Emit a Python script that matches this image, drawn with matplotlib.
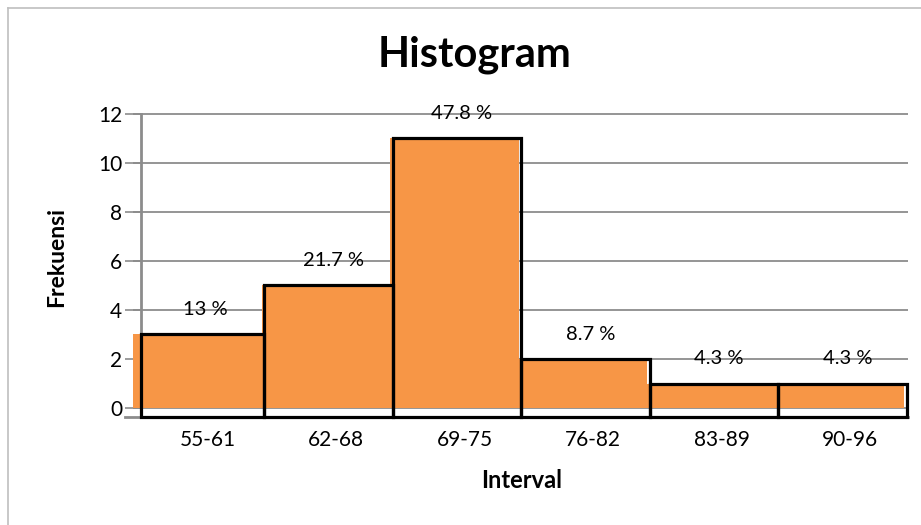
import matplotlib
matplotlib.use("Agg")
import matplotlib.pyplot as plt
import numpy as np
from matplotlib.lines import Line2D

orange = "#F79646"
gray = "#8C8C8C"

intervals = ["55-61", "62-68", "69-75", "76-82", "83-89", "90-96"]
frekuensi = [3, 5, 11, 2, 1, 1]
persen = ["13 %", "21.7 %", "47.8 %", "8.7 %", "4.3 %", "4.3 %"]

plt.rcParams["font.family"] = ["Lato", "DejaVu Sans"]

fig = plt.figure(figsize=(9.21, 5.25), dpi=100)
W, H = 921, 525
y_bot, y_top = -0.367, 12.1
ax = fig.add_axes([133 / W, (H - 417) / H, 775 / W, (417 - 111.5) / H])

x = np.arange(len(intervals))
spine_x = -0.438

# orange fill
ax.bar(x, frekuensi, width=1.0, color=orange, zorder=2)
# black outlines, reaching below zero like the original
lefts = np.maximum(x - 0.48, spine_x)
rights = x + 0.52
ax.bar(lefts, np.array(frekuensi) - y_bot, width=rights - lefts, bottom=y_bot,
       align="edge", fill=False, edgecolor="black", linewidth=2.3, zorder=3,
       clip_on=False)

for xi, v, lab in zip(x, frekuensi, persen):
    ax.text(xi + 0.06, min(v + 1.02, 12.02), lab, ha="center", va="center",
            fontsize=14.5, zorder=4)

ax.set_xlim(-0.5, 5.53)
ax.set_ylim(y_bot, y_top)
ax.set_yticks(np.arange(0, 13, 2))
ax.set_xticks(x + 0.08)
ax.set_xticklabels(intervals, fontsize=15)
ax.tick_params(axis="x", length=0, pad=9)
ax.tick_params(axis="y", length=11.5, width=1.2, color=gray, labelsize=15, pad=2)
ax.grid(axis="y", color=gray, linewidth=1.3, zorder=0)
ax.set_axisbelow(True)

for s in ["top", "right", "bottom"]:
    ax.spines[s].set_visible(False)
ax.spines["left"].set_position(("data", spine_x))
ax.spines["left"].set_color(gray)
ax.spines["left"].set_linewidth(2)
ax.spines["left"].set_bounds(y_bot, 12)
ax.plot([-0.56, 5.53], [y_bot, y_bot], color=gray, linewidth=2, clip_on=False, zorder=1)

fig.text(57 / W, 1 - 257 / H, "Frekuensi", ha="center", va="center", rotation=90,
         fontsize=16.5, fontweight="bold")
fig.text(522 / W, 1 - 481 / H, "Interval", ha="center", va="center",
         fontsize=17, fontweight="bold")
fig.text(475 / W, 1 - 55 / H, "Histogram", ha="center", va="center",
         fontsize=30, fontweight="bold")

# chart frame
fig.add_artist(Line2D([8 / W, 1], [1 - 8 / H, 1 - 8 / H], color="#BFBFBF", linewidth=1.2))
fig.add_artist(Line2D([8 / W, 8 / W], [0, 1 - 8 / H], color="#BFBFBF", linewidth=1.2))

fig.savefig("out.png", dpi=100)
